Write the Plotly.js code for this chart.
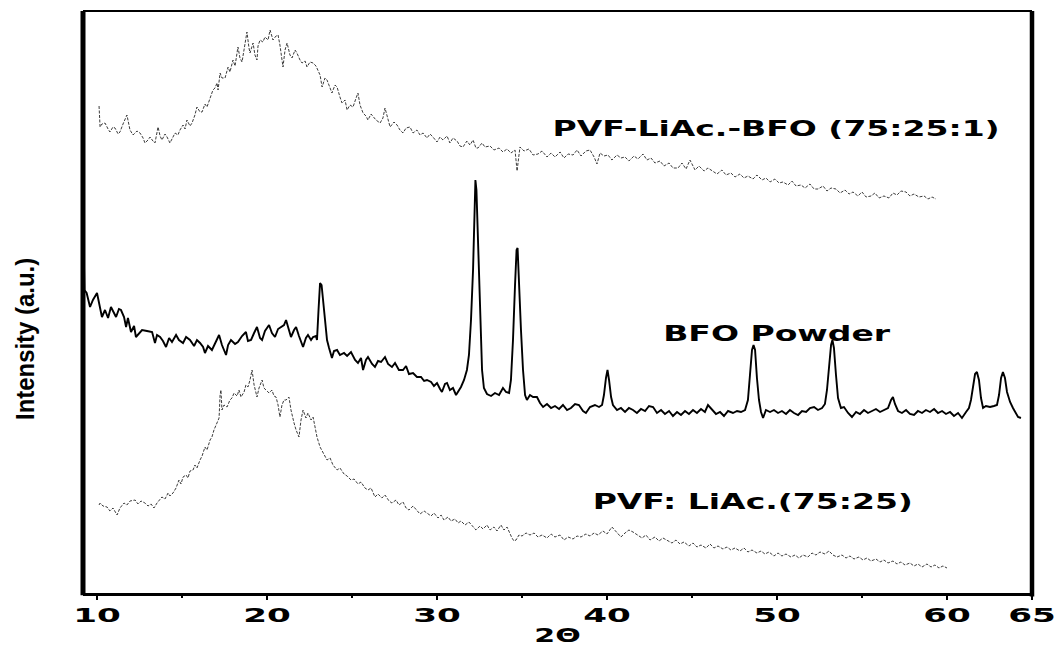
<!DOCTYPE html>
<html>
<head>
<meta charset="utf-8">
<script src="https://cdn.plot.ly/plotly-3.0.1.min.js"></script>
<style>
  html, body { margin: 0; padding: 0; background: #ffffff; }
  #chart { width: 1062px; height: 648px; }
</style>
</head>
<body>
<div id="chart"></div>
<script>
// ---------------- data (2θ in degrees, intensity in arbitrary units with vertical offsets) ----------------
const tickValues = [10, 20, 30, 40, 50, 60, 65];
const tickLabels = ['10', '20', '30', '40', '50', '60', '65'];
const minorTickValues = [15, 25, 35, 45, 55];
const seriesNames = ['PVF-LiAc.-BFO (75:25:1)', 'BFO Powder', 'PVF: LiAc.(75:25)'];
const xAxisTitle = '2\u0398';
const yAxisTitle = 'Intensity (a.u.)';

// PVF-LiAc.-BFO (75:25:1)  [2θ, intensity]
const pvfLiAcBfo = [
[10.12,487],[10.18,466],[10.29,469],[10.47,470],[10.65,464],[10.76,461],[10.94,466],[11.06,465],[11.24,459],[11.35,461],
[11.53,469],[11.76,478],[11.94,463],[12.12,458],[12.35,462],[12.53,460],[12.71,455],[12.82,450],[13.00,453],[13.12,456],
[13.29,452],[13.41,450],[13.59,466],[13.71,457],[13.82,453],[14.00,459],[14.12,456],[14.29,450],[14.47,456],[14.59,460],
[14.76,458],[14.88,463],[15.06,468],[15.18,464],[15.29,473],[15.47,467],[15.59,470],[15.76,478],[15.88,486],[16.06,481],
[16.18,481],[16.35,489],[16.47,486],[16.65,496],[16.82,503],[16.94,505],[17.06,510],[17.12,503],[17.24,520],[17.35,515],
[17.53,515],[17.71,526],[17.82,521],[18.00,533],[18.12,527],[18.29,546],[18.41,535],[18.53,531],[18.71,548],[18.82,561],
[18.94,545],[19.00,540],[19.18,550],[19.29,538],[19.41,533],[19.47,547],[19.59,553],[19.76,551],[19.88,556],[20.06,553],
[20.18,563],[20.29,555],[20.35,553],[20.53,557],[20.65,558],[20.76,548],[20.94,526],[21.06,543],[21.18,550],[21.35,538],
[21.47,535],[21.65,543],[21.76,540],[21.94,533],[22.06,530],[22.24,532],[22.35,526],[22.53,531],[22.71,530],[22.88,527],
[23.00,523],[23.12,518],[23.24,506],[23.41,515],[23.53,513],[23.71,505],[23.82,500],[24.00,508],[24.12,506],[24.29,496],
[24.41,490],[24.59,493],[24.71,483],[24.88,488],[25.06,486],[25.24,495],[25.35,500],[25.47,488],[25.65,480],[25.82,477],
[25.94,473],[26.12,479],[26.24,476],[26.41,473],[26.65,470],[26.82,475],[26.94,485],[27.12,473],[27.24,466],[27.47,471],
[27.65,468],[27.82,463],[28.00,460],[28.18,465],[28.41,466],[28.59,460],[28.82,463],[29.00,458],[29.18,460],[29.41,455],
[29.59,459],[29.76,456],[30.00,451],[30.18,456],[30.35,453],[30.59,457],[30.76,450],[30.94,455],[31.18,452],[31.35,447],
[31.53,446],[31.76,452],[31.94,448],[32.12,453],[32.29,445],[32.41,445],[32.65,450],[32.82,446],[33.12,447],[33.35,443],
[33.65,445],[33.88,441],[34.12,444],[34.35,440],[34.59,443],[34.71,422],[34.88,446],[35.12,442],[35.41,444],[35.65,438],
[35.94,439],[36.18,442],[36.47,436],[36.71,440],[36.94,436],[37.24,441],[37.47,435],[37.71,439],[38.00,438],[38.24,443],
[38.47,437],[38.76,442],[39.00,443],[39.24,436],[39.41,429],[39.59,440],[39.82,437],[40.06,438],[40.29,433],[40.59,438],
[40.82,435],[41.06,436],[41.29,432],[41.59,437],[41.82,434],[42.12,439],[42.35,433],[42.59,435],[42.82,430],[43.12,432],
[43.35,427],[43.65,430],[43.88,425],[44.18,425],[44.41,430],[44.65,424],[44.88,433],[45.00,429],[45.18,423],[45.41,427],
[45.71,422],[45.94,425],[46.24,422],[46.47,419],[46.76,423],[47.00,418],[47.29,420],[47.53,416],[47.82,419],[48.06,415],
[48.29,417],[48.59,414],[48.82,418],[49.12,413],[49.35,415],[49.59,411],[49.88,414],[50.12,410],[50.35,411],[50.65,408],
[50.88,412],[51.12,407],[51.41,408],[51.65,405],[51.94,409],[52.18,404],[52.41,404],[52.71,407],[52.94,402],[53.18,405],
[53.47,404],[53.71,400],[54.00,403],[54.24,399],[54.47,401],[54.76,397],[55.00,401],[55.24,396],[55.53,397],[55.76,400],
[56.00,395],[56.29,397],[56.59,395],[56.82,400],[57.06,398],[57.29,402],[57.59,401],[57.82,397],[58.06,399],[58.35,396],
[58.65,397],[58.88,394],[59.12,396],[59.35,394]
];

// BFO Powder  [2θ, intensity]
const bfoPowder = [
[9.21,353],[9.26,303],[9.39,300],[9.59,286],[9.76,293],[10.00,300],[10.29,276],[10.47,283],[10.65,275],[10.82,286],
[11.12,276],[11.29,284],[11.41,283],[11.59,276],[11.71,266],[11.82,275],[12.00,261],[12.18,267],[12.29,256],[12.47,260],
[12.65,263],[12.94,262],[13.24,261],[13.41,250],[13.53,258],[13.71,256],[13.88,252],[14.06,246],[14.24,255],[14.41,251],
[14.65,258],[14.82,253],[15.06,250],[15.24,256],[15.47,253],[15.71,247],[15.88,253],[16.06,250],[16.24,246],[16.35,240],
[16.53,247],[16.76,243],[16.94,250],[17.18,258],[17.35,248],[17.59,238],[17.71,248],[17.88,253],[18.12,249],[18.29,251],
[18.53,257],[18.76,261],[18.88,252],[19.06,253],[19.24,260],[19.41,266],[19.59,255],[19.71,253],[19.88,262],[20.12,268],
[20.29,260],[20.47,256],[20.65,264],[20.82,266],[21.00,268],[21.12,273],[21.29,262],[21.41,256],[21.59,263],[21.71,266],
[21.88,257],[22.12,246],[22.29,255],[22.41,258],[22.59,253],[22.71,256],[22.88,257],[22.94,253],[23.03,283],[23.12,310],
[23.21,308],[23.29,293],[23.38,273],[23.53,253],[23.65,245],[23.82,235],[23.94,242],[24.12,243],[24.29,238],[24.53,240],
[24.71,237],[24.94,241],[25.18,233],[25.35,230],[25.53,235],[25.65,223],[25.82,233],[25.94,236],[26.18,229],[26.35,226],
[26.53,232],[26.71,231],[26.94,236],[27.12,229],[27.35,226],[27.53,230],[27.76,223],[28.00,223],[28.18,227],[28.35,219],
[28.59,220],[28.82,216],[29.06,216],[29.24,212],[29.41,213],[29.65,211],[29.82,207],[30.00,210],[30.18,204],[30.29,201],
[30.47,209],[30.59,210],[30.76,203],[30.94,205],[31.12,198],[31.29,203],[31.41,206],[31.59,213],[31.76,223],[31.88,238],
[32.00,273],[32.12,323],[32.21,398],[32.26,413],[32.32,403],[32.38,368],[32.47,303],[32.56,263],[32.65,223],[32.76,205],
[32.94,199],[33.18,197],[33.41,200],[33.65,198],[33.88,205],[34.06,201],[34.24,200],[34.35,213],[34.47,253],[34.59,308],
[34.68,343],[34.74,345],[34.82,308],[34.94,263],[35.06,223],[35.18,198],[35.29,193],[35.47,198],[35.65,196],[35.88,196],
[36.06,190],[36.24,186],[36.47,189],[36.71,185],[36.94,187],[37.18,184],[37.41,188],[37.65,183],[37.88,185],[38.12,189],
[38.35,188],[38.59,182],[38.76,180],[39.00,186],[39.29,188],[39.53,186],[39.71,188],[39.82,198],[39.94,215],[40.03,223],
[40.12,213],[40.24,196],[40.35,188],[40.59,183],[40.82,185],[41.06,181],[41.29,185],[41.53,183],[41.76,180],[42.00,184],
[42.24,182],[42.47,187],[42.71,186],[42.94,180],[43.18,183],[43.41,179],[43.65,182],[43.88,177],[44.12,181],[44.35,178],
[44.59,182],[44.82,179],[45.06,183],[45.29,180],[45.53,184],[45.76,181],[45.94,188],[46.18,183],[46.41,179],[46.65,181],
[46.88,177],[47.12,182],[47.41,180],[47.65,182],[47.88,181],[48.12,183],[48.29,193],[48.41,218],[48.53,243],[48.62,248],
[48.71,243],[48.82,215],[48.94,193],[49.06,181],[49.18,175],[49.35,183],[49.59,181],[49.82,183],[50.06,180],[50.29,182],
[50.53,179],[50.76,183],[51.00,180],[51.24,178],[51.47,182],[51.71,181],[51.94,185],[52.18,186],[52.41,183],[52.65,185],
[52.82,189],[52.94,203],[53.06,228],[53.18,248],[53.26,253],[53.35,245],[53.47,218],[53.59,195],[53.76,185],[53.94,186],
[54.18,180],[54.41,176],[54.65,181],[54.88,179],[55.12,183],[55.35,180],[55.59,182],[55.82,184],[56.06,181],[56.29,183],
[56.53,185],[56.71,193],[56.82,196],[56.94,189],[57.12,182],[57.35,180],[57.59,183],[57.82,179],[58.06,178],[58.29,182],
[58.53,180],[58.76,183],[59.00,181],[59.24,184],[59.47,180],[59.71,182],[59.94,179],[60.18,181],[60.41,177],[60.65,180],
[60.88,175],[61.12,181],[61.29,185],[61.41,193],[61.53,208],[61.65,219],[61.76,221],[61.88,213],[62.00,195],[62.12,185],
[62.29,187],[62.53,186],[62.76,187],[62.94,188],[63.06,198],[63.18,215],[63.29,221],[63.41,215],[63.53,201],[63.71,191],
[63.88,185],[64.06,179],[64.18,176],[64.35,175]
];

// PVF: LiAc.(75:25)  [2θ, intensity]
const pvfLiAc = [
[10.12,88],[10.18,90],[10.35,87],[10.59,86],[10.76,82],[10.94,85],[11.18,78],[11.35,85],[11.59,90],[11.76,88],
[11.94,92],[12.24,93],[12.41,89],[12.59,92],[12.82,90],[13.00,87],[13.18,89],[13.35,85],[13.53,90],[13.71,94],
[13.82,96],[14.00,94],[14.18,100],[14.29,97],[14.47,100],[14.65,105],[14.82,113],[14.94,109],[15.06,116],[15.24,118],
[15.35,115],[15.47,122],[15.65,123],[15.76,128],[15.88,125],[16.06,133],[16.18,137],[16.35,146],[16.47,143],[16.65,153],
[16.76,156],[16.88,163],[17.06,171],[17.18,175],[17.24,198],[17.29,203],[17.35,183],[17.47,188],[17.65,186],[17.82,193],
[17.94,195],[18.06,200],[18.24,197],[18.35,203],[18.47,196],[18.65,201],[18.76,208],[18.88,206],[19.00,213],[19.12,223],
[19.24,208],[19.41,196],[19.53,205],[19.71,213],[19.82,205],[20.00,202],[20.12,200],[20.29,203],[20.41,197],[20.53,196],
[20.65,188],[20.76,176],[20.88,188],[21.00,193],[21.12,193],[21.29,196],[21.41,183],[21.59,170],[21.71,163],[21.88,156],
[22.00,173],[22.12,183],[22.29,175],[22.41,180],[22.59,173],[22.71,176],[22.82,165],[22.94,156],[23.12,146],[23.29,141],
[23.53,133],[23.71,135],[23.88,128],[24.12,123],[24.29,125],[24.53,119],[24.71,117],[24.94,113],[25.12,114],[25.35,109],
[25.53,111],[25.76,105],[25.94,103],[26.12,105],[26.35,96],[26.53,99],[26.76,95],[26.94,98],[27.18,92],[27.35,90],
[27.59,93],[27.76,88],[28.00,91],[28.18,85],[28.35,83],[28.59,87],[28.82,83],[29.00,79],[29.24,82],[29.41,80],
[29.65,77],[29.82,80],[30.06,75],[30.24,78],[30.41,73],[30.65,76],[30.82,72],[31.06,74],[31.24,70],[31.41,72],
[31.65,68],[31.88,71],[32.12,66],[32.29,63],[32.53,67],[32.71,64],[32.94,68],[33.12,63],[33.35,66],[33.53,62],
[33.76,68],[33.94,63],[34.12,66],[34.24,61],[34.41,55],[34.53,52],[34.65,53],[34.82,58],[35.00,57],[35.24,60],
[35.47,58],[35.71,60],[35.94,56],[36.18,58],[36.47,55],[36.71,59],[36.94,56],[37.24,58],[37.47,53],[37.71,56],
[38.00,54],[38.24,57],[38.47,56],[38.76,59],[39.00,57],[39.24,60],[39.47,58],[39.76,62],[40.00,59],[40.29,66],
[40.53,61],[40.82,56],[41.06,60],[41.29,63],[41.53,61],[41.82,58],[42.06,55],[42.29,58],[42.53,53],[42.82,56],
[43.06,52],[43.29,55],[43.53,53],[43.82,50],[44.06,53],[44.29,49],[44.53,51],[44.82,47],[45.06,50],[45.29,46],
[45.53,48],[45.82,45],[46.06,49],[46.29,45],[46.53,47],[46.82,44],[47.06,46],[47.29,43],[47.53,45],[47.82,42],
[48.06,45],[48.29,41],[48.53,43],[48.82,40],[49.06,42],[49.29,39],[49.53,41],[49.82,37],[50.06,40],[50.29,37],
[50.53,39],[50.82,36],[51.06,38],[51.29,35],[51.53,38],[51.82,36],[52.06,40],[52.29,38],[52.53,41],[52.82,39],
[53.06,42],[53.29,38],[53.53,36],[53.82,38],[54.06,35],[54.29,37],[54.53,34],[54.82,36],[55.06,33],[55.29,35],
[55.53,32],[55.82,34],[56.06,31],[56.29,33],[56.53,30],[56.82,32],[57.06,29],[57.29,31],[57.53,28],[57.82,30],
[58.06,27],[58.29,29],[58.53,26],[58.82,29],[59.06,26],[59.29,28],[59.53,25],[59.76,27],[60.00,25]
];

// ---------------- chart ----------------
const col = (arr, i) => arr.map(p => p[i]);

const data = [
  { x: col(pvfLiAcBfo, 0), y: col(pvfLiAcBfo, 1), name: seriesNames[0], type: 'scatter', mode: 'lines',
    line: { color: '#262626', width: 0.9, dash: '3px,1.5px' }, hoverinfo: 'skip' },
  { x: col(bfoPowder, 0), y: col(bfoPowder, 1), name: seriesNames[1], type: 'scatter', mode: 'lines',
    line: { color: '#000000', width: 1.9 }, hoverinfo: 'skip' },
  { x: col(pvfLiAc, 0), y: col(pvfLiAc, 1), name: seriesNames[2], type: 'scatter', mode: 'lines',
    line: { color: '#262626', width: 0.9, dash: '3px,1.5px' }, hoverinfo: 'skip' }
];

const labelFont = { family: 'DejaVu Sans, Liberation Sans, sans-serif', size: 22, weight: 'bold', color: '#000' };

const layout = {
  width: 1062, height: 648,
  margin: { l: 83, r: 30, t: 11, b: 55, pad: 0 },
  paper_bgcolor: '#ffffff', plot_bgcolor: '#ffffff',
  showlegend: false,
  xaxis: {
    range: [9.176, 65],
    tickmode: 'array', tickvals: tickValues, ticktext: tickLabels,
    ticks: 'outside', ticklen: 4, tickwidth: 2.5, tickcolor: '#000',
    minor: { tickmode: 'array', tickvals: minorTickValues, ticks: 'outside', ticklen: 2, tickwidth: 2.5, tickcolor: '#000', showgrid: false },
    showline: true, linewidth: 2.5, linecolor: '#000',
    showgrid: false, zeroline: false,
    tickfont: { family: 'DejaVu Sans, sans-serif', size: 19, weight: 'bold', color: '#000' },
    title: { text: xAxisTitle, font: { family: 'DejaVu Sans, sans-serif', size: 20, weight: 'bold', color: '#000' }, standoff: 3 },
    automargin: false, fixedrange: true
  },
  yaxis: {
    range: [0, 582],
    showline: false, showticklabels: false, ticks: '', showgrid: false, zeroline: false,
    automargin: false, fixedrange: true
  },
  shapes: [
    { type: 'line', xref: 'paper', yref: 'paper', x0: 0, x1: 0, y0: -0.004, y1: 1, line: { color: '#000', width: 5 }, layer: 'above' },
    { type: 'line', xref: 'paper', yref: 'paper', x0: 1, x1: 1, y0: -0.006, y1: 1, line: { color: '#000', width: 4.5 }, layer: 'above' },
    { type: 'line', xref: 'paper', yref: 'paper', x0: 0, x1: 1, y0: 1, y1: 1, line: { color: '#000', width: 2 }, layer: 'above' }
  ],
  annotations: [
    { text: seriesNames[0], xref: 'x', yref: 'y', x: 49.94, y: 465, showarrow: false, xanchor: 'center', yanchor: 'middle', font: labelFont },
    { text: seriesNames[1], xref: 'x', yref: 'y', x: 49.97, y: 260, showarrow: false, xanchor: 'center', yanchor: 'middle', font: labelFont },
    { text: seriesNames[2], xref: 'x', yref: 'y', x: 48.59, y: 91.5, showarrow: false, xanchor: 'center', yanchor: 'middle', font: labelFont },
    { text: yAxisTitle, xref: 'paper', yref: 'y', x: -0.0611, y: 254, textangle: -90, showarrow: false, xanchor: 'center', yanchor: 'middle',
      font: { family: 'Liberation Sans, Arial, sans-serif', size: 26, weight: 'bold', color: '#000' } }
  ]
};

// The reference figure is horizontally stretched; widen glyphs of the horizontal texts to match.
function stretchText(nodes, factor) {
  nodes.forEach(function (t) {
    const w = t.getComputedTextLength();
    if (w > 0) {
      t.setAttribute('textLength', (w * factor).toFixed(1));
      t.setAttribute('lengthAdjust', 'spacingAndGlyphs');
    }
  });
}
function fitTextLength(nodes, length) {
  nodes.forEach(function (t) {
    t.setAttribute('textLength', String(length));
    t.setAttribute('lengthAdjust', 'spacingAndGlyphs');
  });
}

const gd = document.getElementById('chart');
Plotly.newPlot(gd, data, layout, { staticPlot: true, displayModeBar: false }).then(function () {
  stretchText(gd.querySelectorAll('.xtick text'), 1.8);
  stretchText(gd.querySelectorAll('.g-xtitle text'), 1.5);
  stretchText(gd.querySelectorAll('.annotation[data-index="0"] .annotation-text, .annotation[data-index="1"] .annotation-text, .annotation[data-index="2"] .annotation-text'), 1.5);
  fitTextLength(gd.querySelectorAll('.annotation[data-index="3"] .annotation-text'), 162);
});
</script>
</body>
</html>
